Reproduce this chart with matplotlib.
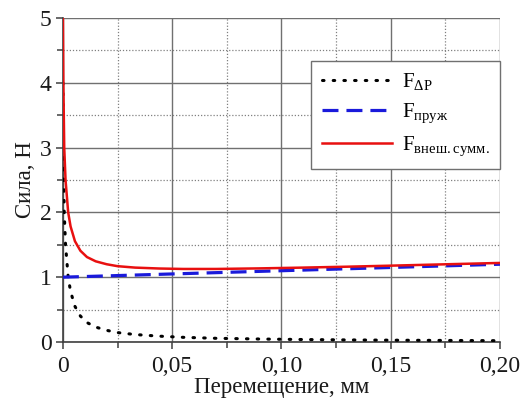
import numpy as np
import matplotlib.pyplot as plt
from matplotlib.ticker import MultipleLocator, FuncFormatter

plt.rcParams['font.family'] = ['Liberation Serif', 'DejaVu Serif']
plt.rcParams['mathtext.fontset'] = 'custom'
plt.rcParams['mathtext.rm'] = 'Liberation Serif'

# перемещение, мм и сила от перепада давления, Н
x_dp = [0, 0.0002, 0.0006, 0.0012, 0.0024, 0.0035, 0.0055, 0.008, 0.011, 0.015,
        0.02, 0.025, 0.033, 0.044, 0.055, 0.07, 0.09, 0.11, 0.13, 0.15, 0.175, 0.2]
f_dp = [4.0, 3.0, 2.0, 1.5, 1.0, 0.78, 0.55, 0.4, 0.3, 0.23,
        0.18, 0.145, 0.115, 0.09, 0.072, 0.057, 0.046, 0.038, 0.032, 0.028, 0.024, 0.02]

# сила пружины
x_spr = [0, 0.2]
f_spr = [1.0, 1.2]

x_dp = np.array(x_dp)
f_dp = np.array(f_dp)
f_sum = f_dp + np.interp(x_dp, x_spr, f_spr)

fig = plt.figure(figsize=(5.2, 4.03), dpi=100)
ax = fig.add_axes([0.121, 0.1514, 0.8405, 0.8039])

ax.plot(x_dp, f_dp, color='black', lw=2.2, linestyle=(0, (0.5, 3.0)),
        dash_capstyle='round', label=r'F$_{\mathregular{ΔP}}$', zorder=3)
ax.plot(x_spr, f_spr, color='#1a1adb', lw=2.3, linestyle=(0, (5, 2.5)),
        label=r'F$_{\mathregular{пруж}}$', zorder=4)
ax.plot(x_dp, f_sum, color='#e81010', lw=1.8,
        label=r'F$_{\mathregular{внеш.сумм.}}$', zorder=5)

ax.set_xlim(0, 0.2)
ax.set_ylim(0, 5)
ax.xaxis.set_major_locator(MultipleLocator(0.05))
ax.xaxis.set_minor_locator(MultipleLocator(0.025))
ax.yaxis.set_major_locator(MultipleLocator(1))
ax.yaxis.set_minor_locator(MultipleLocator(0.5))
ax.xaxis.set_major_formatter(FuncFormatter(
    lambda v, p: '0' if v == 0 else f'{v:.2f}'.replace('.', ',')))
ax.yaxis.set_major_formatter(FuncFormatter(lambda v, p: f'{v:.0f}'))

ax.grid(which='major', color='#707070', lw=1.0, linestyle='-')
ax.grid(which='minor', color='#808080', lw=0.9, linestyle=(0, (1, 1.5)))
ax.set_axisbelow(True)

for s in ['top', 'right']:
    ax.spines[s].set_visible(False)
for s in ['left', 'bottom']:
    ax.spines[s].set_color('#404040')
    ax.spines[s].set_linewidth(1.2)

ax.tick_params(which='both', direction='out', color='#404040', width=1.1,
               labelsize=17, colors='#1a1a1a')
ax.tick_params(which='major', length=5)
ax.tick_params(which='minor', length=4)
ax.tick_params(axis='x', pad=5)
ax.tick_params(axis='y', pad=3)

ax.set_xlabel('Перемещение, мм', fontsize=16.5, color='#1a1a1a', labelpad=0)
ax.set_ylabel('Сила, Н', fontsize=16.5, color='#1a1a1a', labelpad=3)

leg = ax.legend(loc='upper right', bbox_to_anchor=(1.0, 0.867), fontsize=15,
                frameon=True, fancybox=False, handlelength=3.4,
                borderpad=0.5, labelspacing=0.42, handletextpad=0.45,
                borderaxespad=0)
leg.get_frame().set_edgecolor('#707070')
leg.get_frame().set_linewidth(1.0)
leg.get_frame().set_alpha(1)

fig.savefig('out.png', dpi=100)
